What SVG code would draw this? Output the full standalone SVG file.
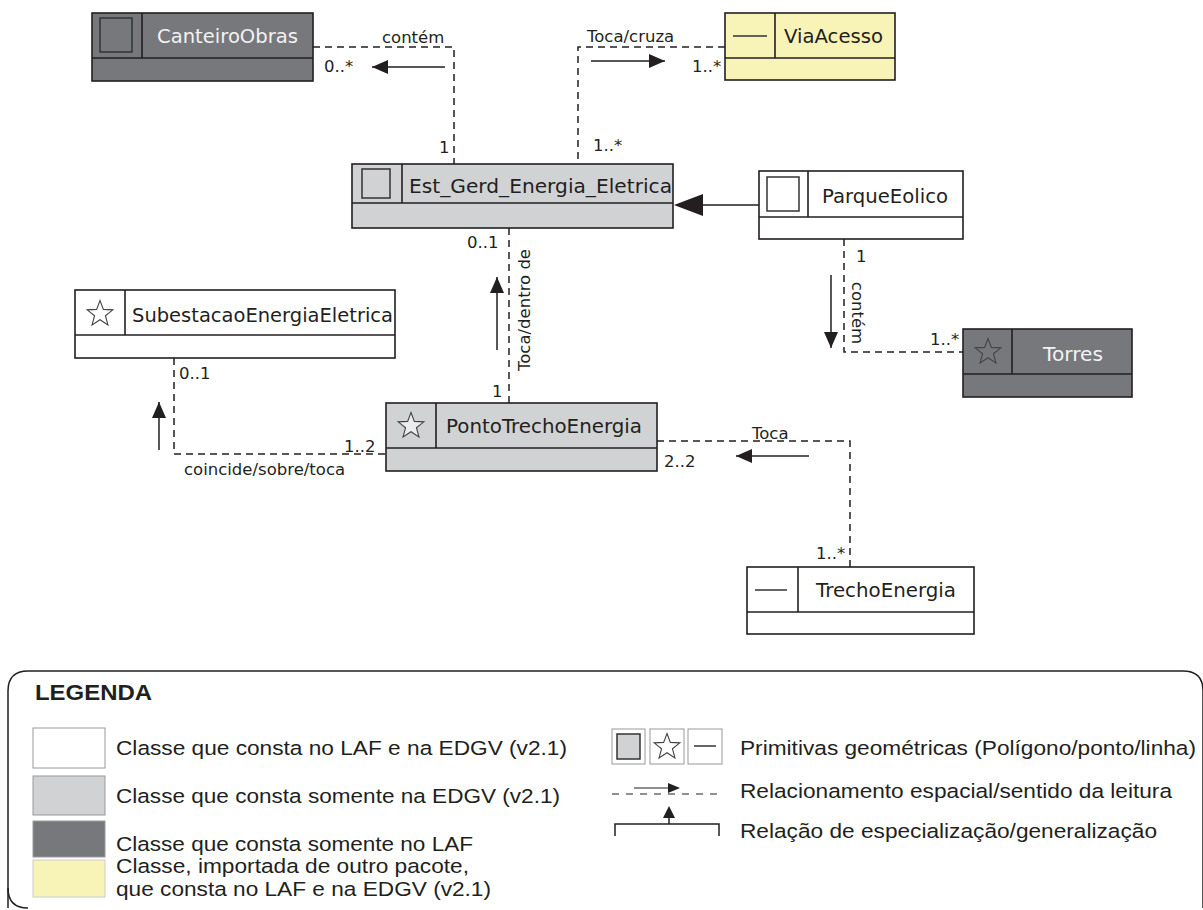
<svg xmlns="http://www.w3.org/2000/svg" xmlns:xlink="http://www.w3.org/1999/xlink" width="1203" height="910" viewBox="0 0 1203 910">
<style>
.box{stroke:#231f20;stroke-width:1.6}
.white{fill:#ffffff}
.lgray{fill:#d1d2d4}
.dgray{fill:#77787b}
.yellow{fill:#f8f3b6}
.sep{stroke:#231f20;stroke-width:1.6;fill:none}
.title{font-family:"DejaVu Sans",Verdana,sans-serif;font-size:20px;fill:#231f20}
.titlew{font-family:"DejaVu Sans",Verdana,sans-serif;font-size:20px;fill:#f2f2f2}
.lbl{font-family:"DejaVu Sans",Verdana,sans-serif;font-size:16.5px;fill:#231f20}
.dash{stroke:#231f20;stroke-width:1.5;fill:none;stroke-dasharray:7 5}
.rd{stroke:#231f20;stroke-width:1.5;fill:none;marker-end:url(#head)}
.icon{stroke:#333;stroke-width:1.5;fill:none}
.star{stroke:#444;stroke-width:1.1}
.leg{font-family:"Liberation Sans",Arial,sans-serif;font-size:20.5px;fill:#231f20}
</style>
<defs>
<marker id="head" markerUnits="userSpaceOnUse" markerWidth="17" markerHeight="14" refX="16" refY="7" orient="auto">
<path d="M0,0 L16,7 L0,14 Z" fill="#231f20"/>
</marker>
<path id="star" d="M0,-13.5 L3.35,-4.6 L12.84,-4.17 L5.43,1.76 L7.94,10.92 L0,5.7 L-7.94,10.92 L-5.43,1.76 L-12.84,-4.17 L-3.35,-4.6 Z"/>
</defs>
<rect width="1203" height="910" fill="#ffffff"/>

<g id="connectors">
<polyline class="dash" points="313,47 454,47 454,164"/>
<line class="rd" x1="445" y1="67" x2="372" y2="67"/>
<polyline class="dash" points="725,47 578,47 578,164"/>
<line class="rd" x1="591" y1="61" x2="665" y2="61"/>
<line class="dash" x1="509" y1="403" x2="509" y2="228"/>
<line class="rd" x1="497" y1="350" x2="497" y2="277"/>
<polyline class="dash" points="844,239 844,352 963,352"/>
<line class="rd" x1="831" y1="275" x2="831" y2="348"/>
<polyline class="dash" points="174,358 174,454 386,454"/>
<line class="rd" x1="159" y1="450" x2="159" y2="402"/>
<polyline class="dash" points="657,441 850,441 850,567"/>
<line class="rd" x1="809" y1="456" x2="736" y2="456"/>
<line x1="759" y1="205" x2="702" y2="205" stroke="#231f20" stroke-width="1.6"/>
<polygon points="674,205 703,194 703,216" fill="#231f20"/>
<text class="lbl" x="382" y="43">contém</text>
<text class="lbl" x="324" y="72">0..*</text>
<text class="lbl" x="439" y="153">1</text>
<text class="lbl" x="587" y="42">Toca/cruza</text>
<text class="lbl" x="692" y="72">1..*</text>
<text class="lbl" x="593" y="151">1..*</text>
<text class="lbl" x="467" y="248">0..1</text>
<text class="lbl" x="492" y="397">1</text>
<text class="lbl" transform="translate(530,310) rotate(-90)" text-anchor="middle">Toca/dentro de</text>
<text class="lbl" x="856" y="262">1</text>
<text class="lbl" transform="translate(852,313) rotate(90)" text-anchor="middle">contém</text>
<text class="lbl" x="930" y="345">1..*</text>
<text class="lbl" x="179" y="379">0..1</text>
<text class="lbl" x="344" y="452">1..2</text>
<text class="lbl" x="184" y="475">coincide/sobre/toca</text>
<text class="lbl" x="752" y="439">Toca</text>
<text class="lbl" x="664" y="467">2..2</text>
<text class="lbl" x="816" y="559">1..*</text>
</g>

<g id="CanteiroObras">
<rect class="box dgray" x="92" y="13" width="221" height="68"/>
<line class="sep" x1="92" y1="58" x2="313" y2="58"/>
<line class="sep" x1="142" y1="13" x2="142" y2="58"/>
<rect class="icon" x="100" y="18" width="32" height="34"/>
<text class="titlew" x="157" y="43" textLength="141" lengthAdjust="spacingAndGlyphs">CanteiroObras</text>
</g>

<g id="ViaAcesso">
<rect class="box yellow" x="725" y="13" width="170" height="67"/>
<line class="sep" x1="725" y1="58" x2="895" y2="58"/>
<line class="sep" x1="775" y1="13" x2="775" y2="58"/>
<line class="icon" x1="733" y1="36" x2="767" y2="36"/>
<text class="title" x="784" y="43" textLength="99" lengthAdjust="spacingAndGlyphs">ViaAcesso</text>
</g>

<g id="Est_Gerd_Energia_Eletrica">
<rect class="box lgray" x="352" y="164" width="321" height="64"/>
<line class="sep" x1="352" y1="203" x2="673" y2="203"/>
<line class="sep" x1="402" y1="164" x2="402" y2="203"/>
<rect class="icon" x="362" y="169" width="28" height="29"/>
<text class="title" x="409" y="193" textLength="263" lengthAdjust="spacingAndGlyphs">Est_Gerd_Energia_Eletrica</text>
</g>

<g id="ParqueEolico">
<rect class="box white" x="759" y="171" width="204" height="68"/>
<line class="sep" x1="759" y1="217" x2="963" y2="217"/>
<line class="sep" x1="808" y1="171" x2="808" y2="217"/>
<rect class="icon" x="767" y="177" width="32" height="34"/>
<text class="title" x="822" y="203" textLength="126" lengthAdjust="spacingAndGlyphs">ParqueEolico</text>
</g>

<g id="Torres">
<rect class="box dgray" x="963" y="329" width="169" height="68"/>
<line class="sep" x1="963" y1="374" x2="1132" y2="374"/>
<line class="sep" x1="1012" y1="329" x2="1012" y2="374"/>
<use xlink:href="#star" href="#star" class="star" fill="none" transform="translate(988,352)"/>
<text class="titlew" x="1043" y="361" textLength="60" lengthAdjust="spacingAndGlyphs">Torres</text>
</g>

<g id="SubestacaoEnergiaEletrica">
<rect class="box white" x="75" y="290" width="320" height="68"/>
<line class="sep" x1="75" y1="335" x2="395" y2="335"/>
<line class="sep" x1="125" y1="290" x2="125" y2="335"/>
<use xlink:href="#star" href="#star" class="star" fill="#ffffff" transform="translate(100,314)"/>
<text class="title" x="132" y="322" textLength="261" lengthAdjust="spacingAndGlyphs">SubestacaoEnergiaEletrica</text>
</g>

<g id="PontoTrechoEnergia">
<rect class="box lgray" x="386" y="403" width="271" height="68"/>
<line class="sep" x1="386" y1="448" x2="657" y2="448"/>
<line class="sep" x1="436" y1="403" x2="436" y2="448"/>
<use xlink:href="#star" href="#star" class="star" fill="#ececec" transform="translate(411,426)"/>
<text class="title" x="446" y="433" textLength="196" lengthAdjust="spacingAndGlyphs">PontoTrechoEnergia</text>
</g>

<g id="TrechoEnergia">
<rect class="box white" x="747" y="567" width="227" height="67"/>
<line class="sep" x1="747" y1="612" x2="974" y2="612"/>
<line class="sep" x1="798" y1="567" x2="798" y2="612"/>
<line class="icon" x1="755" y1="590" x2="787" y2="590"/>
<text class="title" x="816" y="597" textLength="140" lengthAdjust="spacingAndGlyphs">TrechoEnergia</text>
</g>

<g id="legend">
<path d="M8,908 L8,691 Q8,671 28,671 L1183,671 Q1203,671 1203,691 L1203,908" fill="none" stroke="#231f20" stroke-width="1.5"/>
<path d="M8,888 Q8,908 28,908" fill="none" stroke="#231f20" stroke-width="1.5"/>
<text class="leg" x="35" y="700" font-weight="bold" style="font-size:22px" textLength="117" lengthAdjust="spacingAndGlyphs">LEGENDA</text>
<rect x="33" y="728" width="72" height="40" fill="#ffffff" stroke="#999" stroke-width="1"/>
<rect x="33" y="776" width="72" height="39" fill="#d1d2d4" stroke="#999" stroke-width="1"/>
<rect x="33" y="821" width="72" height="36" fill="#77787b" stroke="#999" stroke-width="1"/>
<rect x="33" y="860" width="72" height="37" fill="#f8f3b6" stroke="#ccc" stroke-width="1"/>
<text class="leg" x="116" y="755" textLength="451" lengthAdjust="spacingAndGlyphs">Classe que consta no LAF e na EDGV (v2.1)</text>
<text class="leg" x="116" y="803" textLength="444" lengthAdjust="spacingAndGlyphs">Classe que consta somente na EDGV (v2.1)</text>
<text class="leg" x="116" y="851" textLength="357" lengthAdjust="spacingAndGlyphs">Classe que consta somente no LAF</text>
<text class="leg" x="116" y="873" textLength="353" lengthAdjust="spacingAndGlyphs">Classe, importada de outro pacote,</text>
<text class="leg" x="116" y="896" textLength="375" lengthAdjust="spacingAndGlyphs">que consta no LAF e na EDGV (v2.1)</text>
<rect x="612" y="729" width="33" height="35" fill="#ffffff" stroke="#999" stroke-width="1"/>
<rect x="617" y="734" width="23" height="25" fill="#d1d2d4" stroke="#333" stroke-width="1.5"/>
<rect x="650" y="729" width="34" height="35" fill="#ffffff" stroke="#999" stroke-width="1"/>
<use xlink:href="#star" href="#star" class="star" fill="#ffffff" transform="translate(667,747)"/>
<rect x="688" y="729" width="34" height="35" fill="#ffffff" stroke="#999" stroke-width="1"/>
<line x1="694" y1="746" x2="716" y2="746" stroke="#333" stroke-width="1.5"/>
<text class="leg" x="740" y="755" textLength="456" lengthAdjust="spacingAndGlyphs">Primitivas geométricas (Polígono/ponto/linha)</text>
<line x1="612" y1="794" x2="718" y2="794" stroke="#231f20" stroke-width="1.2" stroke-dasharray="7 7"/>
<line x1="634" y1="788" x2="678" y2="788" stroke="#231f20" stroke-width="1.2"/>
<polygon points="680,788 668,783 668,793" fill="#231f20"/>
<text class="leg" x="740" y="798" textLength="432" lengthAdjust="spacingAndGlyphs">Relacionamento espacial/sentido da leitura</text>
<polyline points="615,836 615,824 719,824 719,836" fill="none" stroke="#231f20" stroke-width="1.5"/>
<line x1="669" y1="824" x2="669" y2="815" stroke="#231f20" stroke-width="1.5"/>
<polygon points="669,806 663,818 675,818" fill="#231f20"/>
<text class="leg" x="740" y="838" textLength="417" lengthAdjust="spacingAndGlyphs">Relação de especialização/generalização</text>
</g>
</svg>
